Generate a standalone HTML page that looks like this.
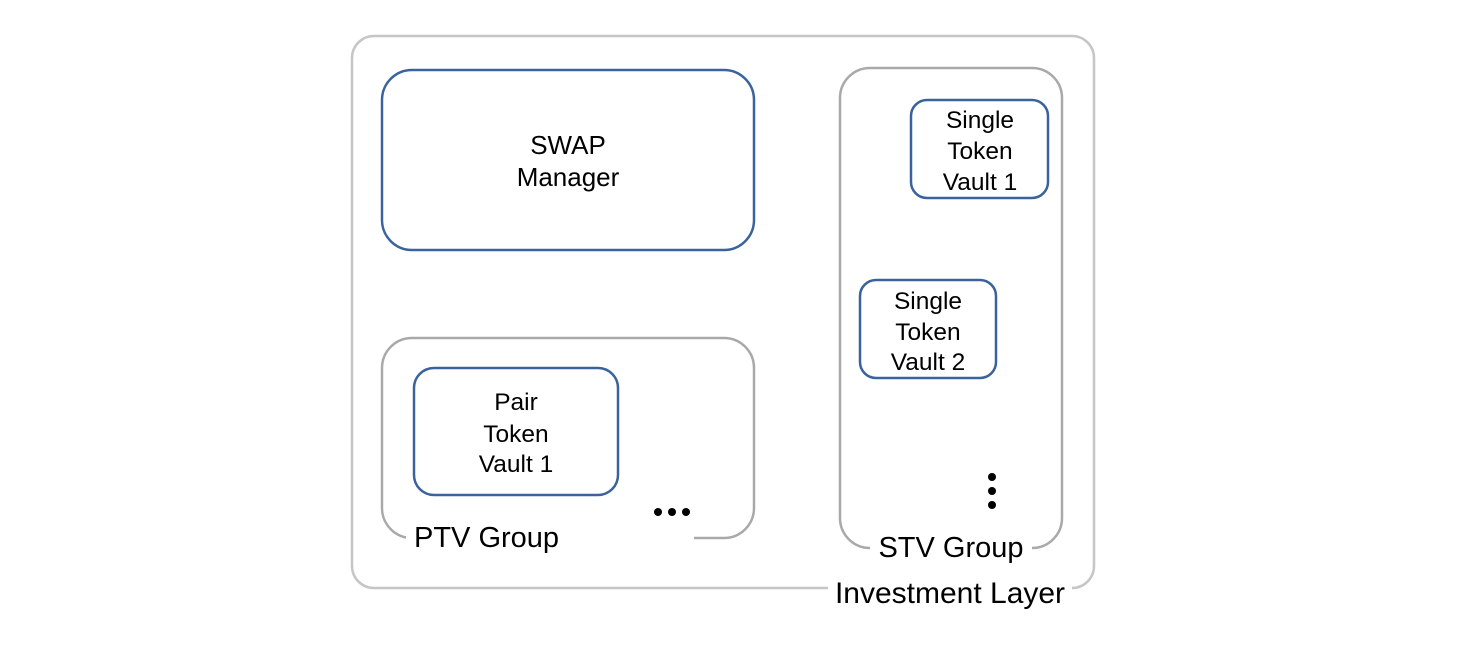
<!DOCTYPE html>
<html><head><meta charset="utf-8"><style>
html,body{margin:0;padding:0;background:#fff;}
svg{display:block;}
text{font-family:"Liberation Sans","Noto Sans CJK KR",sans-serif;fill:#000;}
</style></head><body>
<svg width="1458" height="646" viewBox="0 0 1458 646" xmlns="http://www.w3.org/2000/svg">
<rect x="352" y="36" width="742" height="552" rx="22" fill="none" stroke="#c6c6c6" stroke-width="2.5"/>
<rect x="828" y="575" width="244" height="40" fill="#fff"/>
<text x="950" y="603" font-size="30" text-anchor="middle">Investment Layer</text>
<rect x="382" y="70" width="372" height="180" rx="30" fill="none" stroke="#3a639e" stroke-width="2.5"/>
<text x="568" y="154" font-size="26" text-anchor="middle">SWAP</text>
<text x="568" y="186" font-size="26" text-anchor="middle">Manager</text>
<rect x="382" y="338" width="372" height="200" rx="30" fill="none" stroke="#a9a9a9" stroke-width="2.5"/>
<rect x="406" y="522" width="288" height="30" fill="#fff"/>
<text x="414" y="547" font-size="29">PTV Group</text>
<circle cx="658" cy="512" r="4" fill="#000"/><circle cx="672" cy="512" r="4" fill="#000"/><circle cx="686" cy="512" r="4" fill="#000"/>
<rect x="414" y="368" width="204" height="127" rx="20" fill="none" stroke="#3a639e" stroke-width="2.5"/>
<text x="516" y="410" font-size="24.5" text-anchor="middle">Pair</text>
<text x="516" y="442" font-size="24.5" text-anchor="middle">Token</text>
<text x="516" y="472" font-size="24.5" text-anchor="middle">Vault 1</text>
<rect x="840" y="68" width="222" height="480" rx="30" fill="none" stroke="#a9a9a9" stroke-width="2.5"/>
<rect x="870" y="532" width="162" height="30" fill="#fff"/>
<text x="951" y="557" font-size="29" text-anchor="middle">STV Group</text>
<circle cx="992" cy="477" r="4" fill="#000"/><circle cx="992" cy="491" r="4" fill="#000"/><circle cx="992" cy="505" r="4" fill="#000"/>
<rect x="911" y="100" width="137" height="98" rx="16" fill="none" stroke="#3a639e" stroke-width="2.5"/>
<text x="980" y="128" font-size="24.5" text-anchor="middle">Single</text>
<text x="980" y="159" font-size="24.5" text-anchor="middle">Token</text>
<text x="980" y="190" font-size="24.5" text-anchor="middle">Vault 1</text>
<rect x="860" y="280" width="136" height="98" rx="16" fill="none" stroke="#3a639e" stroke-width="2.5"/>
<text x="928" y="309" font-size="24.5" text-anchor="middle">Single</text>
<text x="928" y="340" font-size="24.5" text-anchor="middle">Token</text>
<text x="928" y="370" font-size="24.5" text-anchor="middle">Vault 2</text>
</svg>
</body></html>
